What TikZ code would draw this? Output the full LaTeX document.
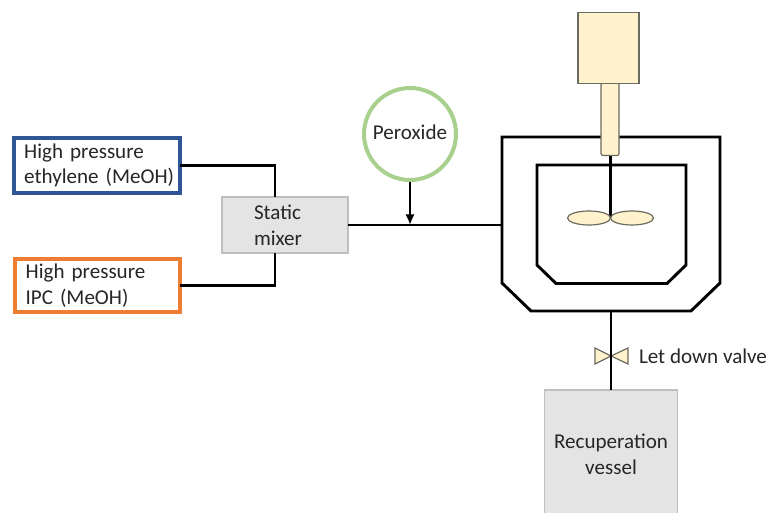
\documentclass[tikz,border=0pt]{standalone}
\usepackage{fontspec}
\setmainfont{Carlito}
\usetikzlibrary{arrows.meta,calc}
\definecolor{bluebox}{HTML}{2F5597}
\definecolor{orangebox}{HTML}{ED7D31}
\definecolor{greenring}{HTML}{A9D18E}
\definecolor{creamfill}{HTML}{FFF2CC}
\definecolor{greyfill}{HTML}{E4E4E4}
\definecolor{greyedge}{HTML}{BFBFBF}
\definecolor{creamedge}{HTML}{6B6B60}
\definecolor{textcol}{HTML}{262626}
\tikzset{
  every node/.style={font=\fontsize{15.8}{19.2}\selectfont,text=textcol,outer sep=0pt},
  pipe/.style={draw=black,line width=2.2pt,line join=miter},
  vesselwall/.style={draw=black,line width=2.2pt,line join=miter},
  feedbox/.style={draw,line width=3pt,fill=white,inner ysep=0pt,inner xsep=3pt,align=left},
  greybox/.style={draw=greyedge,line width=1pt,fill=greyfill,inner sep=0pt},
  creampart/.style={draw=creamedge,line width=0.9pt,fill=creamfill},
}
\begin{document}
\begin{tikzpicture}[x=0.75pt,y=-0.75pt]
\useasboundingbox (0,0) rectangle (770,513);
\clip (0,0) rectangle (770,513);
% nodes
\node[feedbox,draw=bluebox,minimum height=41.25pt,text width=118.9pt,anchor=north west] (eth) at (13.5,138) {\hspace*{5pt}High pressure\\\hspace*{5pt}ethylene (MeOH)};
\node[feedbox,draw=orangebox,minimum height=39.75pt,text width=117.75pt,anchor=north west] (ipc) at (15,259) {\hspace*{5pt}High pressure\\\hspace*{5pt}IPC (MeOH)};
\node[greybox,minimum width=94.5pt,minimum height=42pt,text width=70.5pt,inner xsep=12pt,align=left,anchor=north west] (mixer) at (222,197) {\hspace*{12pt}Static\\\hspace*{12pt}mixer};
\node[circle,draw=greenring,line width=3pt,fill=white,minimum size=69pt,inner sep=0pt,outer sep=1.5pt] (perox) at (410,134) {\raisebox{2.2pt}{Peroxide}};
\node[greybox,minimum width=99.75pt,minimum height=96pt,align=center,anchor=north west] (recup) at (544.5,390) {Recuperation\\vessel};
\node[anchor=west,inner sep=0pt] (valvelabel) at (639,356) {Let down valve};
\coordinate (mixN) at (275,197);
\coordinate (mixS) at (275,253);
\coordinate (vesselW) at (502,225);
\coordinate (vesselS) at (611,311);
\coordinate (feedJ) at (410,225);
\coordinate (recupN) at (611,390);
\coordinate (valve) at (611,356);
\coordinate (shaftEnd) at (610.5,155);
\coordinate (hub) at (610.5,218);
% connectors
\draw[pipe] (eth.east) -| (mixN);
\draw[pipe] (ipc.east) -| (mixS);
\draw[pipe] (mixer.east) -- (vesselW);
\draw[pipe,-{Latex[length=8pt,width=7pt]}] (perox.south) -- (feedJ);
\draw[pipe] (vesselS) -- (recupN);
% vessel
\draw[vesselwall] (502,137) -- (720,137) -- (720,283) -- (691,311) -- (531,311) -- (502,283) -- cycle;
\draw[vesselwall] (537,165) -- (686,165) -- (686,265) -- (667,283.5) -- (556,283.5) -- (537,265) -- cycle;
\draw[pipe] (shaftEnd) -- (hub);
% impeller
\draw[creampart] (589,218) ellipse [x radius=21.5,y radius=7];
\draw[creampart] (632,218) ellipse [x radius=21.5,y radius=7];
% motor
\draw[creampart,rounded corners=1.5pt] (601,83) -- (619,83) -- (619,155.5) -- (601,155.5) -- cycle;
\node[creampart,draw,minimum width=45.75pt,minimum height=53.25pt,inner sep=0pt,anchor=north west] (motor) at (578,12.5) {};
% valve
\draw[creampart] (valve) -- (595,348) -- (595,364) -- cycle;
\draw[creampart] (valve) -- (628,348) -- (628,364) -- cycle;
\draw[pipe] (611,340) -- (611,372);
\end{tikzpicture}
\end{document}
